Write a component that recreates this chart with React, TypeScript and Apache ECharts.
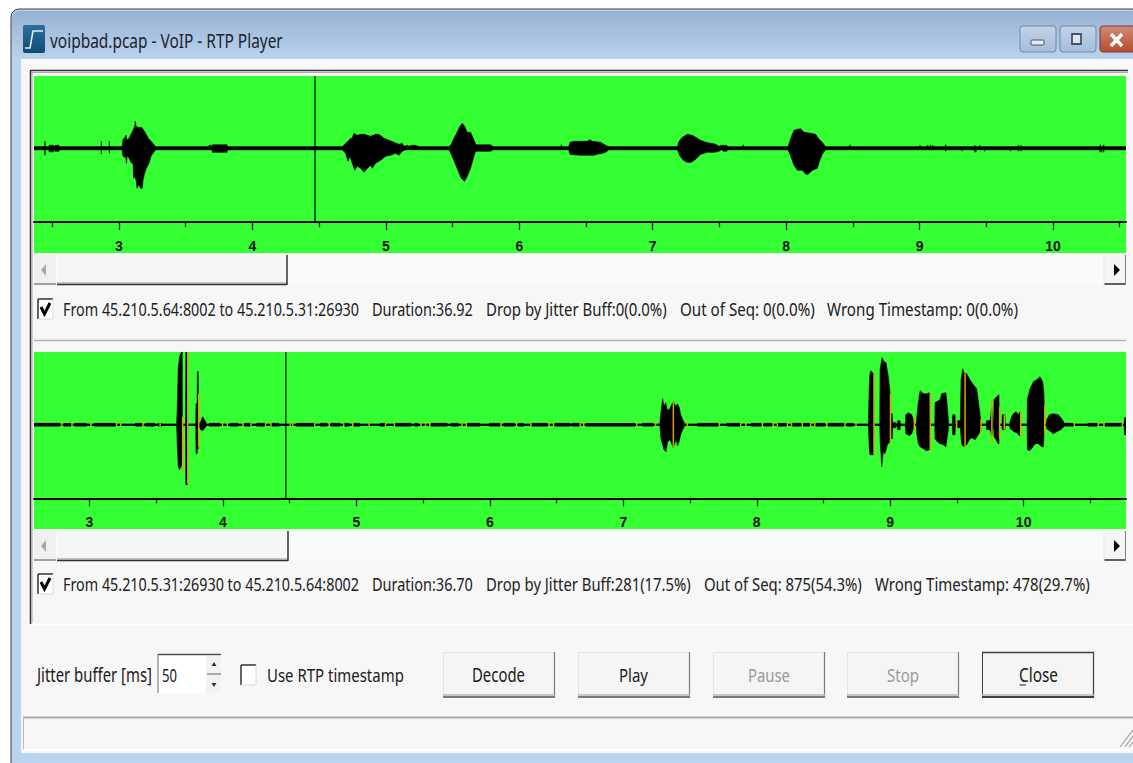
import React, { useEffect, useRef } from "react";
import * as echarts from "echarts";

// ---- tick values ----
const topTicks = [3, 4, 5, 6, 7, 8, 9, 10];
const topMinor = [2.5, 3.5, 4.5, 5.5, 6.5, 7.5, 8.5, 9.5, 10.5];
const bottomTicks = [3, 4, 5, 6, 7, 8, 9, 10];
const bottomMinor = [3.5, 4.5, 5.5, 6.5, 7.5, 8.5, 9.5, 10.5];

// ---- first stream: envelope of the waveform [time, amplitude] ----
const topUpper = [
  [2.363,1.5],[2.475,1.5],[2.476,3],[2.51,3],[2.512,1.5],[2.52,1.5],[2.521,3],[2.55,3],[2.552,1.5],
  [3.023,1.5],[3.03,9],[3.04,10],[3.052,13],[3.06,8],[3.075,10],[3.09,14],[3.105,18],[3.118,22],[3.122,27],[3.128,22],[3.14,21],[3.17,21],[3.18,19],[3.2,15],[3.22,10],[3.24,7],[3.26,4],[3.275,1.5],
  [3.674,1.5],[3.675,3],[3.69,3],[3.692,1.5],[3.698,1.5],[3.7,3.5],[3.81,3.5],[3.813,1.5],
  [4.673,1.5],[4.698,5],[4.723,8],[4.736,10],[4.748,10],[4.761,15],[4.786,13],[4.811,14],[4.836,14],[4.861,13],[4.886,12],[4.923,14],[4.948,14],[4.986,10],[5.023,8],[5.061,6],[5.098,4],[5.123,5],[5.136,2],[5.161,3],[5.173,2],[5.198,3],[5.223,3],[5.248,1.5],
  [5.473,1.5],[5.49,4],[5.51,10],[5.53,15],[5.555,22],[5.573,25],[5.59,22],[5.61,16],[5.635,16],[5.655,10],[5.673,4],[5.685,3.5],[5.785,3.5],[5.805,1.5],
  [6.37,1.5],[6.38,6],[6.41,7],[6.51,7],[6.53,8.5],[6.547,7],[6.61,6],[6.647,3],[6.672,1.5],
  [7.185,1.5],[7.197,7],[7.222,11],[7.26,14],[7.297,13],[7.322,11],[7.36,8],[7.397,6],[7.435,5],[7.472,4],[7.497,2],[7.515,3],[7.555,3],[7.56,1.5],
  [8.014,1.5],[8.034,10],[8.059,18],[8.084,19],[8.109,19.5],[8.134,16],[8.184,15],[8.221,14],[8.247,9],[8.271,6],[8.296,1.5],
  [10.547,1.5],
];
const topLower = [
  [2.363,-1.5],[2.475,-1.5],[2.476,-3.5],[2.51,-3.5],[2.512,-1.5],[2.52,-1.5],[2.521,-3],[2.55,-3],[2.552,-1.5],
  [3.023,-1.5],[3.03,-8],[3.04,-9],[3.05,-8],[3.056,-15],[3.06,-8],[3.072,-9],[3.09,-14],[3.105,-16],[3.11,-30],[3.118,-28],[3.13,-33],[3.135,-40],[3.14,-40],[3.15,-36],[3.16,-40],[3.175,-40],[3.18,-32],[3.19,-26],[3.205,-20],[3.225,-15],[3.24,-8],[3.26,-4],[3.275,-1.5],
  [3.698,-1.5],[3.7,-4],[3.81,-4],[3.813,-1.5],
  [4.673,-1.5],[4.698,-5],[4.716,-13],[4.73,-8],[4.756,-18],[4.766,-22],[4.786,-18],[4.811,-20],[4.836,-24],[4.861,-20],[4.886,-17],[4.898,-20],[4.923,-15],[4.961,-12],[4.998,-8],[5.036,-7],[5.073,-5],[5.098,-7],[5.123,-3],[5.148,-1.5],
  [5.473,-1.5],[5.49,-6],[5.515,-14],[5.54,-22],[5.565,-30],[5.59,-33],[5.61,-28],[5.635,-20],[5.66,-8],[5.673,-3],[5.785,-3],[5.805,-1.5],
  [6.37,-1.5],[6.38,-6],[6.41,-6.5],[6.46,-7],[6.56,-7],[6.585,-6],[6.622,-5],[6.647,-4],[6.672,-1.5],
  [7.185,-1.5],[7.205,-8],[7.23,-12],[7.255,-14],[7.29,-14],[7.322,-11],[7.36,-6],[7.41,-4],[7.46,-4],[7.497,-3],[7.515,-1.5],[7.53,-3],[7.555,-3],[7.56,-1.5],
  [8.014,-1.5],[8.034,-8],[8.059,-17],[8.084,-22],[8.122,-22],[8.147,-26],[8.164,-26],[8.197,-22],[8.234,-20],[8.247,-14],[8.271,-6],[8.296,-1.5],
  [10.547,-1.5],
];
// isolated clicks [time, top, bottom]
const topSpikes = [
  [2.445,7,-7],[2.868,7,-6],[2.928,7,-5],[6.315,3.5,-1],[7.679,3.5,-1],[8.479,3.5,-1],
  [9.003,3,-1],[9.06,3,-1],[9.08,3.5,-1],[9.1,3,-1],[9.195,3.5,-3],[9.318,1,-3],[9.414,3,-4],[9.422,2,-4],[9.45,3,-1],[9.488,1,-3],[9.68,1,-3],[9.74,3,-3],[9.76,3,-3],[10.353,3.5,-4],[10.365,2,-4],[10.38,3.5,-4],
];
const topCursor = [[4.469, 72.3, -73.7]];
const topIdle = [[2.363, 10.547, 1.6]];

// ---- second stream ----
const bottomUpper = [
  [2.584,0.8],[3.65,0.8],[3.653,2],[3.658,20],[3.665,58],[3.675,68],[3.685,72],[3.695,72.7],[3.696,0.8],
  [3.72,0.8],[3.722,72.7],[3.733,72.7],[3.735,0.8],
  [3.796,0.8],[3.798,21],[3.806,21],[3.808,53],[3.815,53],[3.817,0.8],
  [3.833,3],[3.848,8],[3.866,4],[3.878,0.8],
  [7.272,0.8],[7.275,3],[7.282,13],[7.295,26],[7.305,18],[7.317,22],[7.33,15],[7.345,15],[7.362,20],[7.375,23],[7.395,18],[7.405,21],[7.42,17],[7.43,10],[7.445,5],[7.462,0.8],
  [8.836,0.8],[8.842,35],[8.848,51],[8.855,54],[8.874,51],[8.876,0.8],
  [8.922,0.8],[8.924,55],[8.939,67],[8.954,63],[8.969,62],[8.986,48],[8.999,32],[9.004,0.8],
  [9.007,0.8],[9.009,11],[9.016,11],[9.018,2],[9.044,2],[9.046,0.8],[9.054,0.8],[9.056,4],[9.074,4],[9.076,0.8],
  [9.114,0.8],[9.116,10],[9.136,12],[9.161,10],[9.174,5],[9.176,0.8],
  [9.197,0.8],[9.199,8],[9.211,23],[9.224,34],[9.249,31],[9.274,31],[9.294,32],[9.299,0.8],
  [9.334,0.8],[9.336,22],[9.373,25],[9.386,31],[9.418,32],[9.428,18],[9.436,5],[9.438,0.8],
  [9.466,0.8],[9.468,10],[9.486,10],[9.488,0.8],[9.501,0.8],[9.503,4],[9.523,4],[9.525,0.8],
  [9.529,0.8],[9.531,45],[9.543,56],[9.556,51],[9.573,51],[9.598,45],[9.623,40],[9.648,36],[9.668,16],[9.678,6],[9.68,0.8],
  [9.721,0.8],[9.723,4],[9.748,4],[9.755,10],[9.76,18],[9.776,0.8],[9.778,25],[9.798,28],[9.815,30],[9.817,0.8],
  [9.838,0.8],[9.84,10],[9.86,10],[9.862,0.8],
  [9.896,0.8],[9.898,3],[9.91,8],[9.923,11],[9.943,13],[9.96,10],[9.973,13],[9.975,0.8],
  [10.026,0.8],[10.028,26],[10.048,36],[10.073,43],[10.098,45],[10.123,48],[10.143,43],[10.153,30],[10.155,0.8],
  [10.171,0.8],[10.173,5],[10.193,10],[10.223,11],[10.26,10],[10.285,6],[10.31,0.8],
  [10.753,0.8],[10.755,7],[10.767,7],
];
const bottomLower = [
  [2.584,-0.8],[3.65,-0.8],[3.653,-2],[3.658,-22],[3.665,-42],[3.675,-45],[3.695,-40],[3.696,-0.8],
  [3.72,-0.8],[3.722,-60],[3.733,-60],[3.735,-0.8],
  [3.796,-0.8],[3.798,-29],[3.806,-29],[3.808,-24],[3.815,-24],[3.817,-0.8],
  [3.833,-5],[3.848,-6],[3.866,-3],[3.878,-0.8],
  [7.272,-0.8],[7.275,-2],[7.282,-14],[7.295,-20],[7.305,-25],[7.32,-27],[7.332,-17],[7.35,-15],[7.375,-23],[7.395,-15],[7.407,-21],[7.42,-16],[7.43,-10],[7.445,-5],[7.462,-0.8],
  [8.836,-0.8],[8.842,-20],[8.848,-30],[8.874,-30],[8.876,-0.8],
  [8.922,-0.8],[8.924,-15],[8.929,-25],[8.936,-42],[8.949,-27],[8.961,-29],[8.979,-20],[8.999,-17],[9.004,-0.8],
  [9.007,-0.8],[9.009,-14],[9.016,-14],[9.018,-3],[9.044,-3],[9.046,-0.8],[9.054,-0.8],[9.056,-5],[9.074,-5],[9.076,-0.8],
  [9.114,-0.8],[9.116,-9],[9.144,-11],[9.161,-9],[9.174,-4],[9.176,-0.8],
  [9.197,-0.8],[9.199,-9],[9.211,-19],[9.224,-22],[9.249,-24],[9.274,-26],[9.294,-25],[9.299,-0.8],
  [9.334,-0.8],[9.336,-14],[9.353,-17],[9.373,-19],[9.398,-20],[9.418,-22],[9.428,-12],[9.436,-5],[9.438,-0.8],
  [9.466,-0.8],[9.468,-10],[9.486,-10],[9.488,-0.8],[9.501,-0.8],[9.503,-3],[9.523,-3],[9.525,-0.8],
  [9.529,-0.8],[9.531,-14],[9.538,-20],[9.553,-22],[9.573,-20],[9.593,-15],[9.611,-13],[9.636,-15],[9.661,-10],[9.673,-7],[9.68,-0.8],
  [9.721,-0.8],[9.723,-5],[9.748,-5],[9.755,-8],[9.76,-12],[9.776,-0.8],[9.778,-12],[9.793,-15],[9.808,-19],[9.815,-19],[9.817,-0.8],
  [9.838,-0.8],[9.84,-5],[9.86,-5],[9.862,-0.8],
  [9.896,-0.8],[9.898,-4],[9.91,-5],[9.928,-7],[9.948,-8],[9.968,-11],[9.975,-11],[9.976,-0.8],
  [10.026,-0.8],[10.028,-25],[10.043,-26],[10.06,-24],[10.085,-19],[10.11,-19],[10.135,-22],[10.148,-22],[10.153,-10],[10.155,-0.8],
  [10.171,-0.8],[10.173,-4],[10.193,-6],[10.223,-9],[10.248,-7],[10.278,-5],[10.31,-0.8],
  [10.753,-0.8],[10.755,-10],[10.767,-10],
];
const bottomIdle = [[2.584, 10.767, 0.8]];
// stretches where the idle line is thicker [from, to, half thickness]
const bottomThick = [
  [2.586,2.779,1.8],[2.807,2.861,1.8],[2.888,2.978,1.8],[3.033,3.196,1.8],[3.343,3.392,1.8],[3.42,3.488,1.8],[3.515,3.542,1.8],
  [3.896,3.978,1.8],[4.052,4.114,1.8],[4.161,4.21,1.8],[4.251,4.313,1.8],[4.36,4.422,1.8],[4.55,4.687,1.8],[4.728,4.782,1.8],[4.809,4.877,1.8],[4.905,4.946,1.8],[4.978,5.027,1.8],[5.177,5.218,1.8],[5.286,5.409,1.8],[5.436,5.463,1.8],[5.559,5.681,1.8],[5.708,5.763,1.8],[5.831,5.926,1.8],[5.995,6.076,1.8],[6.104,6.185,1.8],[6.213,6.253,1.8],[6.308,6.431,1.8],[6.485,6.602,1.8],[6.614,6.677,1.8],[6.718,7.088,1.8],[7.142,7.225,1.8],
  [7.555,7.712,1.8],[7.774,7.879,1.8],[7.957,8.037,1.8],[8.054,8.112,1.8],[8.149,8.224,1.8],[8.261,8.336,1.8],[8.349,8.399,1.8],[8.436,8.511,1.8],[8.536,8.654,1.8],[8.674,8.724,1.8],
  [10.31,10.372,1.8],[10.48,10.552,1.8],[10.61,10.735,1.8],
];
// late / wrong-timestamp packets drawn in orange [time, top, bottom]
const bottomOrange = [
  [2.793,2,-2],[2.869,2,-2],[3.011,2,-2],[3.202,2,-2],[3.234,2,-2],[3.401,2,-2],[3.529,2,-2],
  [3.698,8,-48],[3.736,72.7,-59],[3.818,31,-22],
  [3.997,2,-2],[4.033,2,-2],[4.15,2,-2],[4.21,2,-2],[4.319,2,-2],[4.36,2,-2],[4.504,2,-2],[4.523,2,-2],[4.687,2,-2],[4.796,2,-2],[4.905,2,-2],[4.973,2,-2],[5.095,2,-2],[5.218,2,-2],[5.286,2,-2],[5.485,2,-2],[5.518,2,-2],[5.55,2,-2],[5.79,2,-2],[5.823,2,-2],[6.084,2,-2],[6.199,2,-2],[6.308,2,-2],[6.444,2,-2],[6.477,2,-2],[6.677,2,-2],[6.704,2,-2],[7.101,2,-2],[7.242,2,-2],
  [7.375,23,-23],[7.48,2,-2],[7.72,2,-2],[7.879,2,-2],[7.919,2,-2],[8.042,2,-2],[8.124,2,-2],[8.154,2,-2],[8.229,2,-2],[8.261,2,-2],[8.341,2,-2],[8.404,2,-2],[8.436,2,-2],[8.524,2,-2],[8.661,2,-2],[8.744,2,-2],
  [8.879,51,-30],[9.002,31,-18],[9.181,6,-5],[9.301,32,-26],[9.498,4,-4],[9.561,51,-22],[9.681,6,-9],[9.762,25,-18],[9.82,18,-14],[9.855,10,-5],[9.978,14,-12],[10.158,19,-10],[10.38,2,-2],[10.56,2,-2],[10.602,2,-2],[10.74,2,-2],
];
const bottomCursor = [[4.471, 72.7, -73.6]];

// ---- texts ----
const titleText = "voipbad.pcap - VoIP - RTP Player";
const stream1Texts = ["From 45.210.5.64:8002 to 45.210.5.31:26930", "Duration:36.92", "Drop by Jitter Buff:0(0.0%)", "Out of Seq: 0(0.0%)", "Wrong Timestamp: 0(0.0%)"];
const stream2Texts = ["From 45.210.5.31:26930 to 45.210.5.64:8002", "Duration:36.70", "Drop by Jitter Buff:281(17.5%)", "Out of Seq: 875(54.3%)", "Wrong Timestamp: 478(29.7%)"];
const buttonLabels = ["Decode", "Play", "Pause", "Stop", "Close"];

const FONT = "'Noto Sans', 'Open Sans', sans-serif";
const measureCtx = document.createElement("canvas").getContext("2d");
function fitScale(text: string, size: number, width: number) {
  if (!measureCtx) return 0.75;
  measureCtx.font = `${size}px 'Noto Sans'`;
  return width / measureCtx.measureText(text).width;
}

function rect(x: number, y: number, w: number, h: number, fill: any, extra: any = {}) {
  return { type: "rect", z: -5, silent: true, shape: { x, y, width: w, height: h, r: extra.r || 0 }, style: { fill, stroke: extra.stroke, lineWidth: extra.lineWidth } };
}
function txt(text: string, x: number, x2: number, y: number, fill = "#202020", size = 19) {
  return {
    type: "text", z: -4, silent: true, x, y, scaleX: fitScale(text, size, x2 - x),
    style: { text, fill, fontSize: size, fontFamily: FONT, textAlign: "left", textVerticalAlign: "middle" },
  };
}
function seg(points: number[], stroke: string, lineWidth = 1) {
  return { type: "line", z: -4, silent: true, shape: { x1: points[0], y1: points[1], x2: points[2], y2: points[3] }, style: { stroke, lineWidth } };
}
function poly(points: number[][], fill: string) {
  return { type: "polygon", z: -4, silent: true, shape: { points }, style: { fill } };
}

function scrollbar(y: number, thumbRight: number) {
  const h = 30;
  return [
    rect(34, y, 1092, h, "#fafafa"),
    rect(34, y, 22, h, "#f0f0f0"),
    poly([[46, y + 9], [46, y + 21], [41, y + 15]], "#a8a8a8"),
    rect(57, y, thumbRight - 57, h, "#f6f6f6"),
    seg([57, y + h - 0.5, thumbRight, y + h - 0.5], "#303030", 1.5),
    seg([57, y + h - 2, thumbRight, y + h - 2], "#909090", 1),
    seg([thumbRight, y, thumbRight, y + h], "#303030", 1.5),
    seg([34, y + h - 1, 56, y + h - 1], "#a0a0a0", 2),
    rect(1104, y, 22, h, "#f4f4f4"),
    seg([1104, y + h - 1, 1126, y + h - 1], "#606060", 2),
    seg([1125.5, y, 1125.5, y + h], "#808080", 1),
    seg([1104, y, 1104, y + h], "#e8e8e8", 1),
    poly([[1114, y + 9], [1114, y + 21], [1120, y + 15]], "#000000"),
  ];
}
function checkbox(x: number, y: number, checked: boolean) {
  const items: any[] = [
    rect(x, y, 15, 20, "#ffffff"),
    seg([x, y, x + 15, y], "#303030", 1.5),
    seg([x, y, x, y + 20], "#303030", 1.5),
    seg([x + 15, y, x + 15, y + 20], "#d8d8d8", 1),
    seg([x, y + 20, x + 15, y + 20], "#d8d8d8", 1),
  ];
  if (checked) {
    items.push({ type: "polyline", z: -4, silent: true, shape: { points: [[x + 3, y + 8], [x + 6.5, y + 15], [x + 12, y + 4]] }, style: { stroke: "#000", lineWidth: 3, fill: "none" } });
  }
  return items;
}
function button(x: number, label: string, tx1: number, tx2: number, kind: "normal" | "disabled" | "default") {
  const y = 652, w = 112, h = 46;
  const dark = kind === "default" ? "#404040" : "#7a7a7a";
  const items: any[] = [
    rect(x, y, w, h, "#f5f5f5"),
    seg([x, y + 0.5, x + w, y + 0.5], kind === "default" ? "#404040" : "#e4e4e4", kind === "default" ? 1.6 : 1),
    seg([x + 0.5, y, x + 0.5, y + h], kind === "default" ? "#404040" : "#e4e4e4", 1),
    seg([x + w - 0.5, y, x + w - 0.5, y + h], dark, 1.2),
    seg([x, y + h - 1, x + w, y + h - 1], dark, 2),
    seg([x, y + h - 3, x + w, y + h - 3], "#b8b8b8", 1.6),
    txt(label, tx1, tx2, 675, kind === "disabled" ? "#9a9a9a" : "#202020"),
  ];
  if (kind === "default") items.push(seg([tx1 + 0.5, 685, tx1 + 7, 685], "#202020", 1));
  return items;
}

function chrome() {
  const titleGrad = new echarts.graphic.LinearGradient(0, 0, 0, 1, [
    { offset: 0, color: "#98b1d2" }, { offset: 1, color: "#b9d3ed" },
  ]);
  const minGrad = new echarts.graphic.LinearGradient(0, 0, 0, 1, [
    { offset: 0, color: "#c4d3e8" }, { offset: 1, color: "#a4bcdb" },
  ]);
  const closeGrad = new echarts.graphic.LinearGradient(0, 0, 0, 1, [
    { offset: 0, color: "#d08a78" }, { offset: 1, color: "#b84a30" },
  ]);
  const iconGrad = new echarts.graphic.LinearGradient(0, 0, 0, 1, [
    { offset: 0, color: "#2a6f9e" }, { offset: 1, color: "#134a74" },
  ]);
  return [
    rect(0, 0, 1133, 763, "#ffffff"),
    rect(11, 9, 1130, 760, "#b9d4ee", { r: [8, 0, 0, 0], stroke: "#3c3c3c", lineWidth: 1 }),
    rect(12, 11, 1125, 47, titleGrad, { r: [7, 0, 0, 0] }),
    rect(21, 59, 1112, 694, "#f7f7f7"),
    seg([30, 70.5, 1128, 70.5], "#303030", 1.5),
    seg([30, 72.5, 1128, 72.5], "#a8a8a8", 1),
    seg([30.5, 70, 30.5, 624], "#303030", 1.5),
    seg([32, 72, 32, 623], "#a8a8a8", 1),
    seg([31, 624.5, 1133, 624.5], "#ffffff", 1.5),
    // title bar
    rect(23, 25, 22, 28, iconGrad, { r: 2 }),
    { type: "polyline", z: -4, silent: true, shape: { points: [[25, 48], [30, 48], [33, 31], [43, 31]] }, style: { stroke: "#dfeefa", lineWidth: 1.6, fill: "none" } },
    txt(titleText, 50, 283, 40, "#1c2430"),
    rect(1020, 26, 36, 26, minGrad, { r: 3, stroke: "#7187a8", lineWidth: 1 }),
    rect(1031, 40, 13, 5, "#e8ecf2", { r: 1, stroke: "#44526a", lineWidth: 1 }),
    rect(1060, 26, 36, 26, minGrad, { r: 3, stroke: "#7187a8", lineWidth: 1 }),
    rect(1072, 34, 9, 10, "#dfe6f0", { stroke: "#44526a", lineWidth: 1.8 }),
    rect(1100, 26, 40, 26, closeGrad, { r: 3, stroke: "#7a3a30", lineWidth: 1 }),
    seg([1111, 34, 1122, 46], "#ffffff", 3.4),
    seg([1122, 34, 1111, 46], "#ffffff", 3.4),
    // green panes
    rect(34, 76, 1092, 177, "#33ff33"),
    rect(34, 352, 1092, 177, "#33ff33"),
    ...scrollbar(255, 287),
    ...scrollbar(531, 288),
    // stream rows
    ...checkbox(38, 299, true),
    ...checkbox(38, 574, true),
    txt(stream1Texts[0], 63, 359, 309),
    txt(stream1Texts[1], 372, 473, 309),
    txt(stream1Texts[2], 486, 667, 309),
    txt(stream1Texts[3], 680, 815, 309),
    txt(stream1Texts[4], 827, 1018, 309),
    seg([34, 340.5, 1126, 340.5], "#b4b4b4", 1.5),
    txt(stream2Texts[0], 63, 359, 584),
    txt(stream2Texts[1], 372, 473, 584),
    txt(stream2Texts[2], 486, 691, 584),
    txt(stream2Texts[3], 704, 862, 584),
    txt(stream2Texts[4], 875, 1090, 584),
    // controls
    txt("Jitter buffer [ms]", 37, 152, 675),
    rect(158, 654, 63, 39, "#ffffff"),
    seg([158, 654.5, 221, 654.5], "#505050", 1.5),
    seg([158, 654, 158, 693], "#707070", 1),
    rect(206, 656, 15, 37, "#f2f2f2"),
    seg([207, 674, 221, 674], "#909090", 1.5),
    poly([[214, 662], [211.5, 666], [216.5, 666]], "#303030"),
    poly([[214, 687], [211.5, 683], [216.5, 683]], "#303030"),
    txt("50", 162, 177, 675),
    ...checkbox(241, 665, false),
    txt("Use RTP timestamp", 267, 404, 675),
    ...button(443, buttonLabels[0], 472, 525, "normal"),
    ...button(578, buttonLabels[1], 619, 648, "normal"),
    ...button(713, buttonLabels[2], 748, 790, "disabled"),
    ...button(847, buttonLabels[3], 887, 919, "disabled"),
    ...button(982, buttonLabels[4], 1019, 1058, "default"),
    // status bar
    seg([23, 717.5, 1133, 717.5], "#a8a8a8", 2),
    seg([23.5, 717, 23.5, 750], "#b8b8b8", 1),
    seg([23, 750, 1133, 750], "#ffffff", 1.5),
    seg([1120, 747, 1133, 730], "#a0a0a0", 1.2),
    seg([1125, 747, 1133, 736], "#a0a0a0", 1.2),
    seg([1129, 747, 1133, 742], "#a0a0a0", 1.2),
  ];
}

function vLine(color: string, width: number) {
  return (_p: any, api: any) => {
    const a = api.coord([api.value(0), api.value(1)]);
    const b = api.coord([api.value(0), api.value(2)]);
    return { type: "line", shape: { x1: a[0], y1: a[1], x2: b[0], y2: b[1] }, style: { stroke: color, lineWidth: width } };
  };
}
function band(_p: any, api: any) {
  const a = api.coord([api.value(0), api.value(2)]);
  const b = api.coord([api.value(1), -api.value(2)]);
  return { type: "rect", shape: { x: a[0], y: a[1], width: b[0] - a[0], height: b[1] - a[1] }, style: { fill: "#000" } };
}
const env = (data: number[][], xi: number, yi: number) => ({
  type: "line", xAxisIndex: xi, yAxisIndex: yi, data, symbol: "none",
  lineStyle: { color: "#000", width: 0.6 }, areaStyle: { color: "#000", opacity: 1 }, silent: true, z: 3,
});
const custom = (data: number[][], xi: number, yi: number, renderItem: any, z = 4, dims?: number[]) => ({
  type: "custom", xAxisIndex: xi, yAxisIndex: yi, data, renderItem, silent: true, z, encode: { x: dims ?? [0], y: [1, 2] },
});
const majorAxis = (grid: number, min: number, max: number, ticks: number[]) => ({
  type: "value", gridIndex: grid, min, max, position: "bottom", splitLine: { show: false },
  axisLine: { show: true, onZero: false, lineStyle: { color: "#000", width: 2 } },
  axisTick: { show: true, length: 8, lineStyle: { color: "#000", width: 1.2 }, customValues: ticks },
  axisLabel: { show: true, margin: 17, fontSize: 14, fontWeight: "bold", fontFamily: "'Liberation Sans Narrow', 'Liberation Sans', sans-serif", color: "#101010", customValues: ticks, showMinLabel: true, showMaxLabel: true },
});
const minorAxis = (grid: number, min: number, max: number, ticks: number[]) => ({
  type: "value", gridIndex: grid, min, max, position: "bottom", splitLine: { show: false },
  axisLine: { show: false, onZero: false },
  axisTick: { show: true, length: 5, lineStyle: { color: "#000", width: 1.2 }, customValues: ticks },
  axisLabel: { show: false },
});

export default function App() {
  const ref = useRef<HTMLDivElement>(null);
  useEffect(() => {
    document.body.style.margin = "0";
    const chart = echarts.init(ref.current!, undefined, { renderer: "svg" });
    chart.setOption({
      animation: false,
      backgroundColor: "#ffffff",
      tooltip: { show: false },
      graphic: { elements: chrome() },
      grid: [
        { left: 34, top: 76, width: 1092, height: 146 },
        { left: 34, top: 352, width: 1092, height: 146.3 },
      ],
      xAxis: [
        majorAxis(0, 2.363, 10.547, topTicks),
        minorAxis(0, 2.363, 10.547, topMinor),
        majorAxis(1, 2.584, 10.767, bottomTicks),
        minorAxis(1, 2.584, 10.767, bottomMinor),
      ],
      yAxis: [
        { type: "value", gridIndex: 0, min: -73.7, max: 72.3, show: false },
        { type: "value", gridIndex: 1, min: -73.6, max: 72.7, show: false },
      ],
      series: [
        env(topUpper, 0, 0),
        env(topLower, 0, 0),
        custom(topIdle, 0, 0, band, 4, [0, 1]),
        custom(topSpikes, 0, 0, vLine("#000", 1.1)),
        custom(topCursor, 0, 0, vLine("#000", 1.2)),
        env(bottomUpper, 2, 1),
        env(bottomLower, 2, 1),
        custom(bottomIdle, 2, 1, band, 4, [0, 1]),
        custom(bottomThick, 2, 1, band, 4, [0, 1]),
        custom(bottomOrange, 2, 1, vLine("#e0a000", 1.5), 5),
        custom(bottomCursor, 2, 1, vLine("#000", 1.2), 6),
      ],
    });
    return () => chart.dispose();
  }, []);
  return <div ref={ref} style={{ width: 1133, height: 763 }} />;
}
